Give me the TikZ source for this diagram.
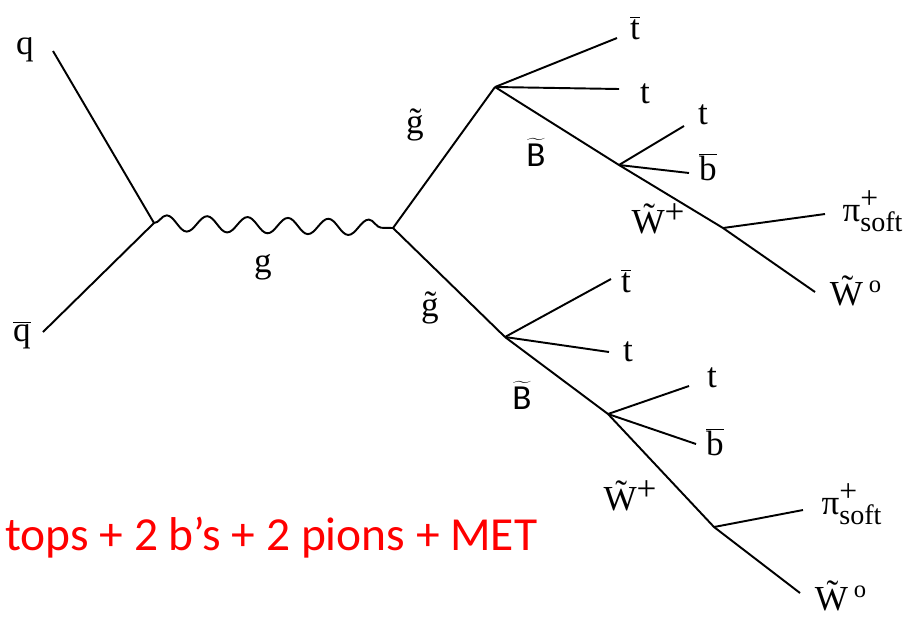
\documentclass[tikz,border=0pt]{standalone}
\usepackage{fontspec}
\setmainfont{Liberation Serif}
\newfontfamily\calibri{Carlito}
\usepackage{tikz}
\usetikzlibrary{decorations.pathmorphing}
\definecolor{metred}{RGB}{255,0,0}
\tikzset{
  prt/.style={line width=1.1pt},
  gluon/.style={line width=1.1pt, decorate, decoration={snake, amplitude=4.5pt, segment length=23pt}},
  lbl/.style={inner sep=0pt, font=\fontsize{20}{24}\selectfont},
}
\newcommand{\tbar}{$\overline{\mathrm{t}}$}
\newcommand{\bbar}{$\overline{\mathrm{b}}$}
\newcommand{\bino}{$\widetilde{\mbox{\calibri B}}$}
\newcommand{\wino}{\~{W}\raisebox{0.3em}{+}}
\newcommand{\wzero}{\~{W}\,\textsuperscript{o}}
\newcommand{\pisoft}{π$^{\mbox{\fontsize{18}{18}\selectfont +}}_{\mbox{\fontsize{16}{16}\selectfont soft}}$}

\begin{document}
\begin{tikzpicture}[x=0.02cm,y=-0.02cm]
  \useasboundingbox (0,0) rectangle (911,616);
  % vertices
  \coordinate (vqq) at (154,223);
  \coordinate (vgg) at (393,228);
  \coordinate (vup) at (495,87);
  \coordinate (vupb) at (619,165);
  \coordinate (vupw) at (723,228);
  \coordinate (vlo) at (505,337);
  \coordinate (vlob) at (608,414);
  \coordinate (vlow) at (714,527);
  % free ends
  \coordinate (eq) at (53,51);
  \coordinate (eqb) at (43,332);
  \coordinate (eupt1) at (617,38);
  \coordinate (eupt2) at (619,89);
  \coordinate (eupt3) at (684,126);
  \coordinate (eupb) at (689,173);
  \coordinate (euppi) at (825,214);
  \coordinate (eupw) at (815,292);
  \coordinate (elot1) at (611,279);
  \coordinate (elot2) at (609,352);
  \coordinate (elot3) at (689,386);
  \coordinate (elob) at (696,444);
  \coordinate (elopi) at (803,510);
  \coordinate (elow) at (800,593);

  % lines
  \draw[prt] (eq) -- (vqq);
  \draw[prt] (eqb) -- (vqq);
  \draw[gluon] (vqq) -- (vgg);
  \draw[prt] (vgg) -- (vup);
  \draw[prt] (vgg) -- (vlo);
  \draw[prt] (vup) -- (eupt1);
  \draw[prt] (vup) -- (eupt2);
  \draw[prt] (vup) -- (vupb) -- (vupw) -- (eupw);
  \draw[prt] (vupb) -- (eupt3);
  \draw[prt] (vupb) -- (eupb);
  \draw[prt] (vupw) -- (euppi);
  \draw[prt] (vlo) -- (elot1);
  \draw[prt] (vlo) -- (elot2);
  \draw[prt] (vlo) -- (vlob) -- (vlow) -- (elow);
  \draw[prt] (vlob) -- (elot3);
  \draw[prt] (vlob) -- (elob);
  \draw[prt] (vlow) -- (elopi);

  % labels
  \node[lbl] (lq) at (25,50) {q};
  \node[lbl] (lqb) at (22,335) {$\overline{\mathrm{q}}$};
  \node[lbl] (lg) at (263,267) {g};
  \node[lbl] (lgup) at (415,125) {\~{g}};
  \node[lbl] (lglo) at (430,308) {\~{g}};
  \node[lbl] (lupt1) at (635,28) {\tbar};
  \node[lbl] (lupt2) at (645,94) {t};
  \node[lbl] (lupB) at (536,152) {\bino};
  \node[lbl] (lupt3) at (703,115) {t};
  \node[lbl] (lupb) at (708,167) {\bbar};
  \node[lbl] (lupw) at (658,219) {\wino};
  \node[lbl] (luppi) at (873,211) {\pisoft};
  \node[lbl] (lupw0) at (856,291) {\wzero};
  \node[lbl] (llot1) at (626,281) {\tbar};
  \node[lbl] (llot2) at (628,352) {t};
  \node[lbl] (lloB) at (522,395) {\bino};
  \node[lbl] (llot3) at (712,378) {t};
  \node[lbl] (llob) at (715,442) {\bbar};
  \node[lbl] (llow) at (630,496) {\wino};
  \node[lbl] (llopi) at (852,504) {\pisoft};
  \node[lbl] (llow0) at (841,596) {\wzero};
  \node[anchor=base west, inner sep=0pt, text=metred, font=\calibri\fontsize{27}{32}\selectfont] (lsig) at (5,550) {tops + 2 b’s + 2 pions + MET};
\end{tikzpicture}
\end{document}
